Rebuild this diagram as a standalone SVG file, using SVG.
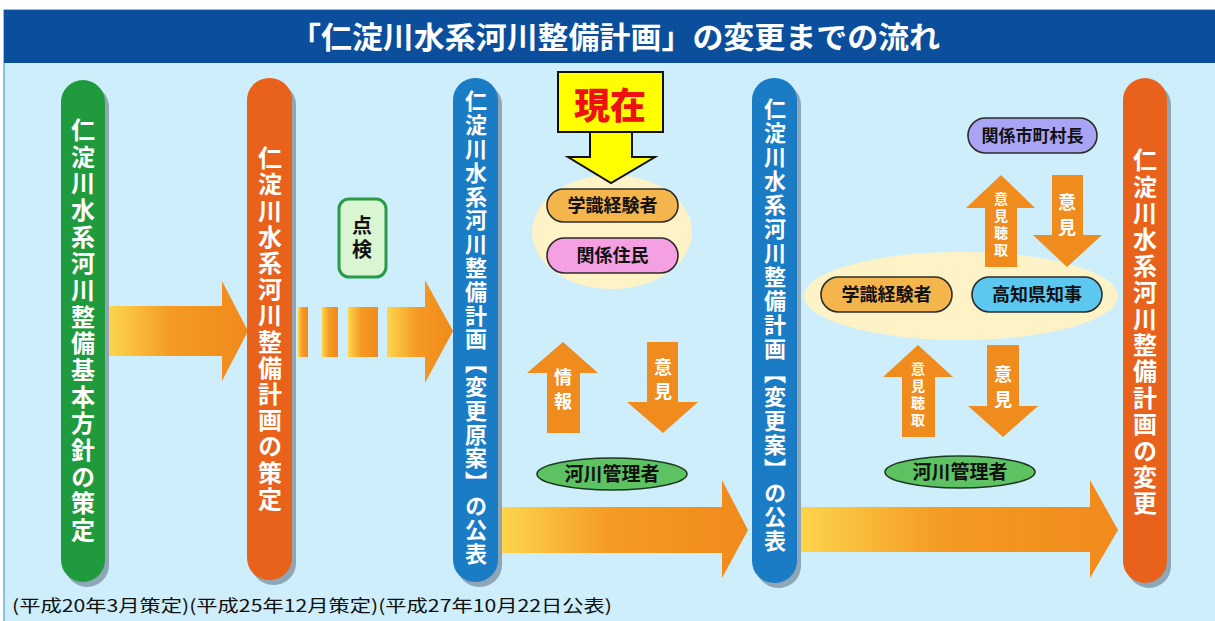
<svg xmlns="http://www.w3.org/2000/svg" width="1215" height="621" viewBox="0 0 1215 621">
<defs>
  <linearGradient id="gArrow" x1="0" y1="0" x2="1" y2="0">
    <stop offset="0" stop-color="#fdd64c"/>
    <stop offset="0.45" stop-color="#f59a22"/>
    <stop offset="1" stop-color="#f08a1c"/>
  </linearGradient>
</defs>
<style>
  .jp{font-family:"Noto Sans CJK JP","Noto Sans CJK SC",sans-serif}
  .shadow{fill:#8ea6b6}
  .ptxt{fill:#ffffff;font-weight:700;writing-mode:vertical-rl}
  .p24{font-size:24px}
  .p22{font-size:22px}
  .garrow{fill:url(#gArrow)}
  .oarrow{fill:#f08c1e}
  .atxt{fill:#ffffff;font-weight:700;writing-mode:vertical-rl}
  .pill{stroke:#2b2b2b;stroke-width:1.6}
  .btxt{fill:#111111;font-weight:700;text-anchor:middle}
</style>

<rect x="0" y="0" width="1215" height="621" fill="#ffffff"/>
<rect x="4" y="10" width="1212" height="612" fill="#cdeefa" stroke="#6aaedc" stroke-width="1.5"/>

<g id="title">
  <rect x="4" y="10" width="1211" height="53" fill="#0b4f9c"/>
  <text class="jp" x="615" y="48" font-size="30" font-weight="700" fill="#ffffff" text-anchor="middle" textLength="650" lengthAdjust="spacingAndGlyphs">「仁淀川水系河川整備計画」の変更までの流れ</text>
</g>

<g id="group-bg">
  <ellipse cx="612" cy="232" rx="80" ry="57" fill="#fdf3c6"/>
  <ellipse cx="961" cy="296" rx="157" ry="44" fill="#fdf3c6"/>
</g>

<g id="connectors">
  <path class="garrow" d="M108,306 H222 V281 L248,331 L222,381 V356 H108 Z"/>
  <rect class="garrow" x="298" y="307" width="10" height="50"/>
  <rect class="garrow" x="322" y="307" width="16" height="50"/>
  <rect class="garrow" x="348" y="307" width="30" height="50"/>
  <path class="garrow" d="M387,307 H425 V280 L453,331 L425,383 V357 H387 Z"/>
  <path class="garrow" d="M500,507 H722 V480 L748,530 L722,578 V553 H500 Z"/>
  <path class="garrow" d="M797,507 H1090 V480 L1118,530 L1090,578 V552 H797 Z"/>
  <path class="oarrow" d="M563,342 L598,373 H580 V433 H547 V373 H527 Z"/>
  <path class="oarrow" d="M647,342 H678 V402 H698 L663,433 L627,402 H647 Z"/>
  <path class="oarrow" d="M1001,175 L1035,208 H1017 V267 H985 V208 H966 Z"/>
  <path class="oarrow" d="M1052,175 H1083 V235 H1102 L1067,267 L1033,235 H1052 Z"/>
  <path class="oarrow" d="M918,345 L953,377 H935 V437 H902 V377 H883 Z"/>
  <path class="oarrow" d="M987,345 H1019 V406 H1038 L1003,437 L968,406 H987 Z"/>
  <text class="jp atxt" x="563" y="368" font-size="18" letter-spacing="6">情報</text>
  <text class="jp atxt" x="663" y="358" font-size="18" letter-spacing="6">意見</text>
  <text class="jp atxt" x="1001" y="192" font-size="14" letter-spacing="3">意見聴取</text>
  <text class="jp atxt" x="1067" y="193" font-size="18" letter-spacing="7">意見</text>
  <text class="jp atxt" x="918" y="362" font-size="14" letter-spacing="3">意見聴取</text>
  <text class="jp atxt" x="1003" y="365" font-size="18" letter-spacing="7">意見</text>
</g>

<g id="pillar-kihon">
  <rect class="shadow" x="65" y="85" width="44" height="502" rx="22"/>
  <rect x="61" y="80" width="44" height="502" rx="22" fill="#1f9a3c"/>
  <text class="jp ptxt p24" x="83" y="118" letter-spacing="2.67">仁淀川水系河川整備基本方針の策定</text>
</g>

<g id="pillar-sakutei">
  <rect class="shadow" x="251" y="83" width="45" height="502" rx="22"/>
  <rect x="247" y="78" width="45" height="502" rx="22" fill="#e8621c"/>
  <text class="jp ptxt p24" x="270" y="146" letter-spacing="2.2">仁淀川水系河川整備計画の策定</text>
</g>

<g id="pillar-genan">
  <rect class="shadow" x="457" y="83" width="45" height="504" rx="22"/>
  <rect x="453" y="78" width="45" height="504" rx="22" fill="#1b7cc6"/>
  <text class="jp ptxt p22" x="476" y="90" letter-spacing="1.8">仁淀川水系河川整備計画【変更原案】の公表</text>
</g>

<g id="pillar-henkoan">
  <rect class="shadow" x="756" y="83" width="45" height="505" rx="22"/>
  <rect x="752" y="78" width="45" height="505" rx="22" fill="#1b7cc6"/>
  <text class="jp ptxt p22" x="775" y="98" letter-spacing="2">仁淀川水系河川整備計画【変更案】の公表</text>
</g>

<g id="pillar-henko">
  <rect class="shadow" x="1127" y="83" width="44" height="505" rx="22"/>
  <rect x="1123" y="78" width="44" height="505" rx="22" fill="#e8621c"/>
  <text class="jp ptxt p24" x="1145" y="148" letter-spacing="2.4">仁淀川水系河川整備計画の変更</text>
</g>

<g id="tenken">
  <rect x="339" y="199" width="47" height="78" rx="10" fill="#d9f5d2" stroke="#2a9a48" stroke-width="3"/>
  <text class="jp" x="362" y="215" font-size="20" font-weight="700" fill="#111111" style="writing-mode:vertical-rl" letter-spacing="4">点検</text>
</g>

<g id="genzai">
  <rect x="558" y="72" width="105" height="60" fill="#ffff00" stroke="#111111" stroke-width="2"/>
  <text class="jp" x="610" y="119" font-size="36" font-weight="900" fill="#ee1111" text-anchor="middle">現在</text>
  <path d="M590,132 H632 V157 H655 L611,183 L568,157 H590 Z" fill="#ffff00" stroke="#111111" stroke-width="2"/>
</g>

<g id="gakushiki-1">
  <rect class="pill" x="547" y="189" width="131" height="33" rx="16.5" fill="#f3b54c"/>
  <text class="jp btxt" x="612.5" y="212" font-size="18">学識経験者</text>
</g>

<g id="jumin">
  <rect class="pill" x="547" y="238" width="131" height="35" rx="17.5" fill="#f5a0e2"/>
  <text class="jp btxt" x="612.5" y="262" font-size="18">関係住民</text>
</g>

<g id="kasen-1">
  <ellipse cx="612" cy="474" rx="75" ry="16" fill="#5cc262" stroke="#1f3a22" stroke-width="1.6"/>
  <text class="jp btxt" x="612" y="481" font-size="19">河川管理者</text>
</g>

<g id="shichoson">
  <rect class="pill" x="968" y="118" width="129" height="35" rx="17.5" fill="#aaa4f4"/>
  <text class="jp btxt" x="1032.5" y="142" font-size="17">関係市町村長</text>
</g>

<g id="gakushiki-2">
  <rect class="pill" x="821" y="277" width="131" height="35" rx="17.5" fill="#f3b54c"/>
  <text class="jp btxt" x="886.5" y="301" font-size="18">学識経験者</text>
</g>

<g id="chiji">
  <rect class="pill" x="972" y="277" width="130" height="35" rx="17.5" fill="#5cc8f0"/>
  <text class="jp btxt" x="1037" y="301" font-size="18">高知県知事</text>
</g>

<g id="kasen-2">
  <ellipse cx="960" cy="472" rx="75" ry="16" fill="#5cc262" stroke="#1f3a22" stroke-width="1.6"/>
  <text class="jp btxt" x="960" y="479" font-size="19">河川管理者</text>
</g>

<g id="dates">
  <text class="jp" x="12" y="612" font-size="17" fill="#111111" textLength="600" lengthAdjust="spacingAndGlyphs">(平成20年3月策定)(平成25年12月策定)(平成27年10月22日公表)</text>
</g>
</svg>
